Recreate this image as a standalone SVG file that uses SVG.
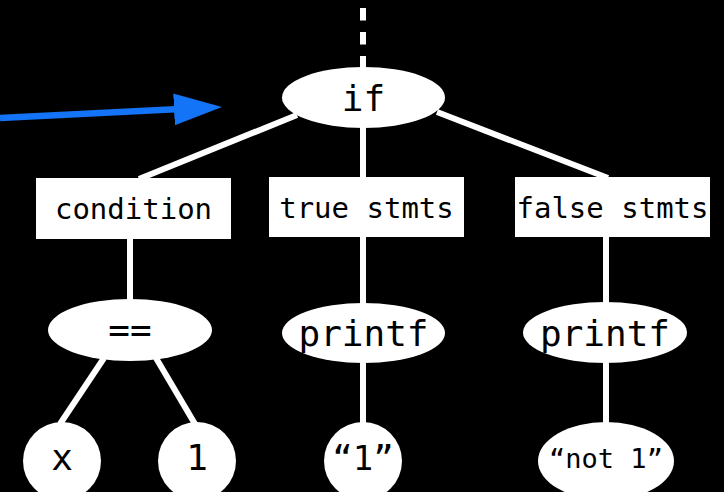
<svg xmlns="http://www.w3.org/2000/svg" width="724" height="492" viewBox="0 0 724 492">
  <style>
    .edge { stroke: #ffffff; stroke-width: 6; fill: none; }
    .dash { stroke: #ffffff; stroke-width: 6; stroke-dasharray: 12.5 11.5; fill: none; }
    .shape { fill: #ffffff; }
    .lbl { font-family: "DejaVu Sans Mono", "Liberation Mono", monospace; fill: #000000; text-anchor: middle; }
    .box { font-size: 29px; }
    .big { font-size: 36px; }
    .mid { font-size: 34px; }
    .small { font-size: 27px; }
    .pointer { stroke: #1474f8; stroke-width: 6.5; fill: none; }
  </style>
  <defs>
    <marker id="blueHead" markerUnits="userSpaceOnUse" markerWidth="50" markerHeight="34" viewBox="0 -17 50 34" refX="16" refY="0" orient="auto">
      <path d="M0,-16 L48,0 L0,16 Z" fill="#1474f8"/>
    </marker>
  </defs>
  <rect width="724" height="492" fill="#000000"/>

  <g id="connectors">
    <line class="dash" x1="363" y1="8" x2="363" y2="68"/>
    <line class="edge" x1="297" y1="115" x2="139" y2="179"/>
    <line class="edge" x1="363" y1="127" x2="363" y2="178"/>
    <line class="edge" x1="437" y1="112" x2="608" y2="178"/>
    <line class="edge" x1="130" y1="238" x2="130" y2="300"/>
    <line class="edge" x1="363" y1="236" x2="363" y2="304"/>
    <line class="edge" x1="606" y1="236" x2="606" y2="303"/>
    <line class="edge" x1="104" y1="358" x2="60" y2="424"/>
    <line class="edge" x1="156" y1="358" x2="195" y2="424"/>
    <line class="edge" x1="363" y1="362" x2="363" y2="423"/>
    <line class="edge" x1="606" y1="362" x2="606" y2="423"/>
    <line class="pointer" x1="0" y1="118" x2="190" y2="108.6" marker-end="url(#blueHead)"/>
  </g>

  <g id="if">
    <ellipse class="shape" cx="363.5" cy="97.5" rx="81.5" ry="30.5"/>
    <text class="lbl big" x="363.5" y="111">if</text>
  </g>

  <g id="condition">
    <rect class="shape" x="36" y="178" width="195" height="61"/>
    <text class="lbl box" x="133.5" y="219">condition</text>
  </g>

  <g id="true-stmts">
    <rect class="shape" x="269" y="177" width="195" height="60"/>
    <text class="lbl box" x="366.5" y="218">true stmts</text>
  </g>

  <g id="false-stmts">
    <rect class="shape" x="515" y="177" width="195" height="60"/>
    <text class="lbl box" x="612.5" y="218">false stmts</text>
  </g>

  <g id="eq">
    <ellipse class="shape" cx="130" cy="330" rx="82" ry="31"/>
    <text class="lbl big" x="130" y="342">==</text>
  </g>

  <g id="printf-true">
    <ellipse class="shape" cx="363.5" cy="333" rx="81.5" ry="30"/>
    <text class="lbl big" x="363.5" y="346">printf</text>
  </g>

  <g id="printf-false">
    <ellipse class="shape" cx="605" cy="332.5" rx="82" ry="30.5"/>
    <text class="lbl big" x="605" y="346">printf</text>
  </g>

  <g id="x">
    <circle class="shape" cx="62" cy="461" r="39"/>
    <text class="lbl big" x="62" y="470">x</text>
  </g>

  <g id="one">
    <circle class="shape" cx="197" cy="461" r="39"/>
    <text class="lbl big" x="197" y="470">1</text>
  </g>

  <g id="str-1">
    <circle class="shape" cx="363" cy="461" r="39"/>
    <text class="lbl mid" x="363" y="470">“1”</text>
  </g>

  <g id="str-not-1">
    <ellipse class="shape" cx="606" cy="461" rx="68" ry="39"/>
    <text class="lbl small" x="606" y="468">“not 1”</text>
  </g>
</svg>
